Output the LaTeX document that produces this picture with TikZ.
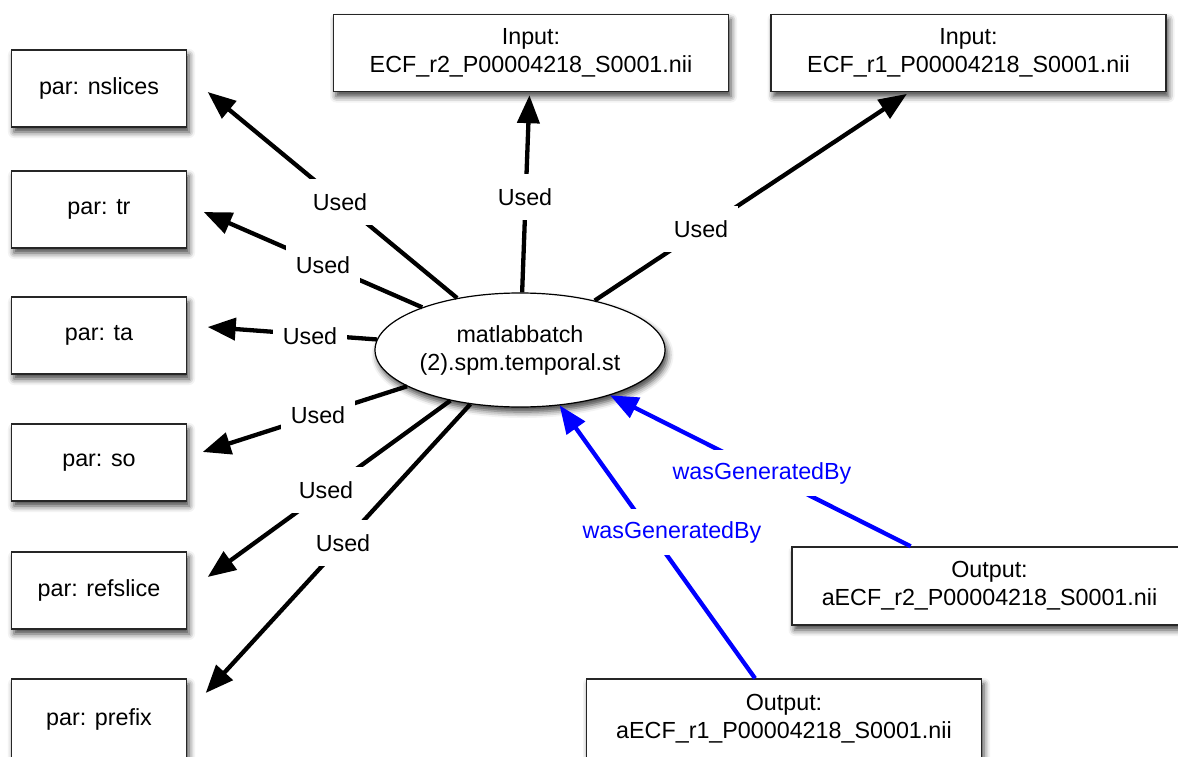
\documentclass[tikz,border=0pt]{standalone}
\usepackage{fontspec}
\setmainfont{Liberation Sans}
\usetikzlibrary{arrows.meta,shapes.geometric,calc,shadows.blur}
\begin{document}
\begin{tikzpicture}[x=1pt,y=-1pt,
  txt/.style={font=\fontsize{23.3}{28}\selectfont},
  shd/.style={blur shadow={shadow xshift=2.5pt, shadow yshift=-5pt, shadow blur radius=6pt, shadow opacity=75}},
  box/.style={txt, shd, draw=black!85, line width=1.4pt, fill=white, minimum height=77pt, inner sep=0pt, align=center},
  parbox/.style={box, minimum width=175pt},
  filebox/.style={box, minimum width=395pt},
  act/.style={txt, shd, ellipse, draw=black, line width=1.2pt, fill=white, minimum width=290pt, minimum height=114pt, inner sep=0pt, align=center},
  used/.style={line width=4.3pt, draw=black, -{Triangle[length=28pt,width=22pt]}},
  wgb/.style={used, draw=blue, fill=blue},
  lbl/.style={txt, fill=white, inner xsep=10pt, inner ysep=0pt, minimum height=46pt},
]
\useasboundingbox (0,0) rectangle (1178,757);
\clip (0,0) rectangle (1178,757);

% nodes
\node[act] (m) at (520,350) {matlabbatch\\(2).spm.temporal.st};
\node[parbox] (nslices) at (99,88.5) {par: nslices};
\node[parbox] (tr) at (99,209.5) {par: tr};
\node[parbox] (ta) at (99,335.5) {par: ta};
\node[parbox] (so) at (99,462.5) {par: so};
\node[parbox] (refslice) at (99,590.5) {par: refslice};
\node[parbox, minimum height=80pt] (prefix) at (99,719) {par: prefix};
\node[filebox] (inr2) at (531,53) {Input:\\ECF\_r2\_P00004218\_S0001.nii};
\node[filebox] (inr1) at (968.5,53) {Input:\\ECF\_r1\_P00004218\_S0001.nii};
\node[filebox, minimum height=78pt] (outr2) at (989.5,586) {Output:\\aECF\_r2\_P00004218\_S0001.nii};
\node[filebox, minimum height=80pt] (outr1) at (784,719) {Output:\\aECF\_r1\_P00004218\_S0001.nii};

% arrow tip points
\coordinate (tnsl) at ($(nslices.east)+(20.5,3.5)$);
\coordinate (ttr)  at ($(tr.east)+(16.5,2.5)$);
\coordinate (tta)  at ($(ta.east)+(20.5,-8.5)$);
\coordinate (tso)  at ($(so.east)+(15.5,-10.5)$);
\coordinate (tref) at ($(refslice.east)+(20.5,-13.5)$);
\coordinate (tpre) at ($(prefix.east)+(18.5,-26)$);

% connectors
\draw[used] (m) -- (tnsl);
\draw[used] (m) -- (ttr);
\draw[used] (m) -- (tta);
\draw[used] (m) -- (tso);
\draw[used] (m) -- (tref);
\draw[used] (m) -- (tpre);
\draw[used, shorten >=3pt] (m) -- (inr2);
\draw[used, shorten >=3pt] (m) -- (inr1);
\draw[wgb] (outr2) -- (m);
\draw[wgb] (outr1) -- (m);

% labels
\node[lbl] (l1) at (340,202) {Used};
\node[lbl] (l2) at (323,265) {Used};
\node[lbl] (l3) at (310,336) {Used};
\node[lbl] (l4) at (318,415) {Used};
\node[lbl] (l5) at (326,490) {Used};
\node[lbl] (l6) at (343,543) {Used};
\node[lbl] (l7) at (525,197) {Used};
\node[lbl] (l8) at (701,229) {Used};
\node[lbl, text=blue] (l9) at (762,473) {wasGeneratedBy};
\node[lbl, text=blue] (l10) at (672,532) {wasGeneratedBy};
\end{tikzpicture}
\end{document}
